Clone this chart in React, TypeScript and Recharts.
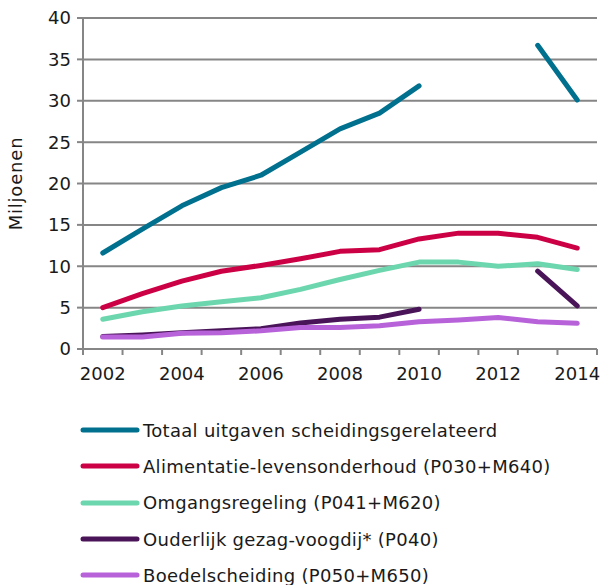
import { LineChart, Line, XAxis, YAxis, CartesianGrid, Legend } from "recharts";

const YEARS = [2002, 2003, 2004, 2005, 2006, 2007, 2008, 2009, 2010, 2011, 2012, 2013, 2014];

const TOTAAL = [11.6, 14.5, 17.3, 19.5, 21.0, 23.8, 26.6, 28.5, 31.8, null, null, 36.7, 30.1];
const ALIMENTATIE = [5.0, 6.7, 8.2, 9.4, 10.1, 10.9, 11.8, 12.0, 13.3, 14.0, 14.0, 13.5, 12.2];
const OMGANG = [3.6, 4.5, 5.2, 5.7, 6.2, 7.2, 8.4, 9.5, 10.5, 10.5, 10.0, 10.3, 9.6];
const OUDERLIJK = [1.5, 1.7, 1.95, 2.2, 2.45, 3.15, 3.6, 3.85, 4.8, null, null, 9.4, 5.2];
const BOEDEL = [1.45, 1.45, 1.9, 1.95, 2.2, 2.6, 2.6, 2.8, 3.3, 3.5, 3.8, 3.3, 3.1];

const Y_TICKS = [0, 5, 10, 15, 20, 25, 30, 35, 40];

const SERIES = [
  { key: "totaal", name: "Totaal uitgaven scheidingsgerelateerd", color: "#00708F", values: TOTAAL },
  { key: "alimentatie", name: "Alimentatie-levensonderhoud (P030+M640)", color: "#CC0044", values: ALIMENTATIE },
  { key: "omgang", name: "Omgangsregeling (P041+M620)", color: "#6CD7AE", values: OMGANG },
  { key: "ouderlijk", name: "Ouderlijk gezag-voogdij* (P040)", color: "#4A1459", values: OUDERLIJK },
  { key: "boedel", name: "Boedelscheiding (P050+M650)", color: "#B862DA", values: BOEDEL },
];

const data = YEARS.map((year, i) => {
  const row: Record<string, number | null> = { year };
  SERIES.forEach((s) => {
    row[s.key] = s.values[i];
  });
  return row;
});

// tick marks sit between the years, labels on the even years
const xTicks: number[] = [];
YEARS.forEach((y) => {
  xTicks.push(y - 0.5, y);
});
xTicks.push(YEARS[YEARS.length - 1] + 0.5);

const FONT = "'DejaVu Sans', Verdana, sans-serif";
const GRAY = "#868686";
const TEXT = "#1a1a1a";

const XTick = (props: any) => {
  const { x, y, payload } = props;
  const v = payload.value as number;
  if (v % 1 !== 0) {
    return <line x1={x} x2={x} y1={y} y2={y + 6} stroke={GRAY} strokeWidth={2} />;
  }
  if (v % 2 === 0) {
    return (
      <text x={x} y={y + 31} textAnchor="middle" fontSize={18} fontFamily={FONT} fill={TEXT}>
        {v}
      </text>
    );
  }
  return null;
};

const LegendContent = () => (
  <div style={{ fontFamily: FONT, fontSize: 18, color: TEXT, letterSpacing: 0.3 }}>
    {SERIES.map((s) => (
      <div key={s.key} style={{ display: "flex", alignItems: "center", height: 36.3 }}>
        <svg width={60} height={10} style={{ marginLeft: 80, marginRight: 3 }}>
          <line x1={3} x2={57} y1={5} y2={5} stroke={s.color} strokeWidth={5} strokeLinecap="round" />
        </svg>
        <span style={{ whiteSpace: "nowrap" }}>{s.name}</span>
      </div>
    ))}
  </div>
);

export default function App() {
  return (
    <div style={{ position: "absolute", left: 0, top: 0, background: "#fff" }}>
      <LineChart
        width={603}
        height={585}
        data={data}
        margin={{ top: 18, right: 6, left: 0, bottom: 206 }}
      >
        <CartesianGrid vertical={false} stroke={GRAY} strokeWidth={2} />
        <XAxis
          dataKey="year"
          type="number"
          domain={[2001.5, 2014.5]}
          ticks={xTicks}
          interval={0}
          height={30}
          tickLine={false}
          tickSize={0}
          tickMargin={0}
          axisLine={{ stroke: GRAY, strokeWidth: 2 }}
          tick={<XTick />}
        />
        <YAxis
          width={83}
          domain={[0, 40]}
          ticks={Y_TICKS}
          interval={0}
          tickSize={6}
          tickMargin={6}
          axisLine={{ stroke: GRAY, strokeWidth: 2 }}
          tickLine={{ stroke: GRAY, strokeWidth: 2 }}
          tick={{ fontSize: 18, fontFamily: FONT, fill: TEXT }}
          label={{
            value: "Miljoenen",
            angle: -90,
            position: "insideLeft",
            offset: 16,
            style: { textAnchor: "middle", fontSize: 18, fontFamily: FONT, fill: TEXT, letterSpacing: 0.8 },
          }}
        />
        <Legend
          layout="vertical"
          align="center"
          verticalAlign="middle"
          content={<LegendContent />}
          wrapperStyle={{ position: "absolute", top: 412, left: 0, width: 603 }}
        />
        {SERIES.map((s) => (
          <Line
            key={s.key}
            dataKey={s.key}
            name={s.name}
            type="linear"
            stroke={s.color}
            strokeWidth={5}
            strokeLinecap="round"
            strokeLinejoin="round"
            dot={false}
            activeDot={false}
            connectNulls={false}
            isAnimationActive={false}
          />
        ))}
      </LineChart>
    </div>
  );
}
